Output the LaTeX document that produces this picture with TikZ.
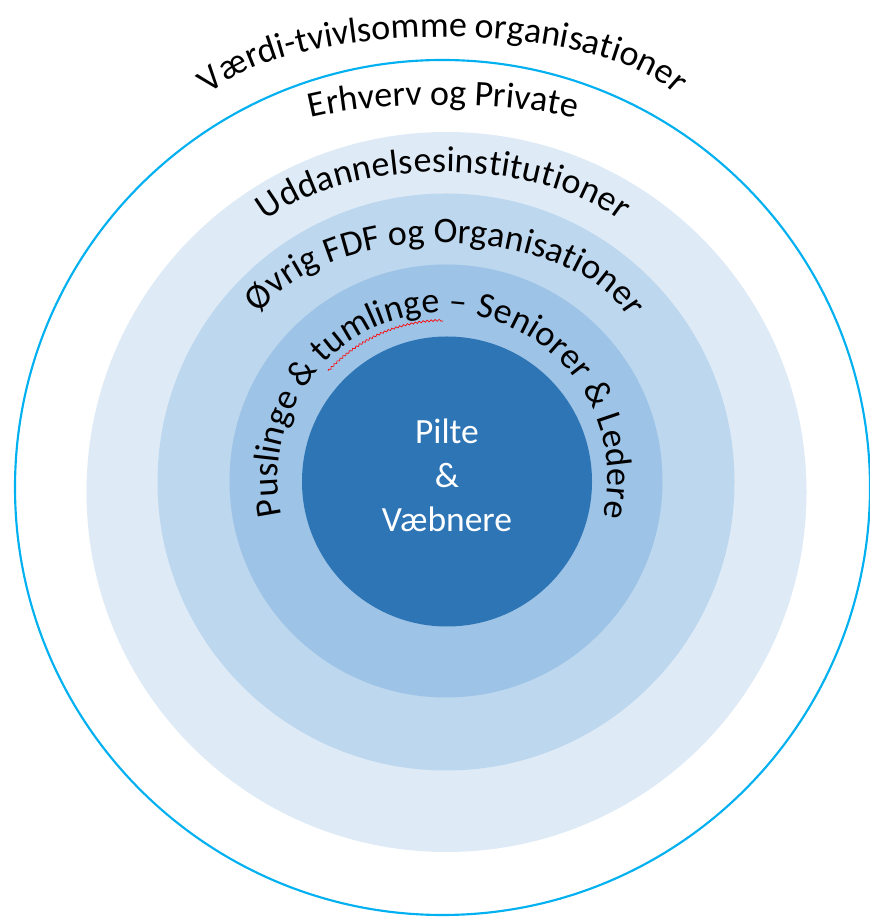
\documentclass[tikz,border=0pt]{standalone}
\usepackage{fontspec}
\setmainfont{Carlito}
\usetikzlibrary{decorations.text,decorations.pathmorphing}
\definecolor{ringA}{HTML}{DEEBF7}
\definecolor{ringB}{HTML}{BDD7EE}
\definecolor{ringC}{HTML}{9DC3E6}
\definecolor{coreblue}{HTML}{2E75B6}
\definecolor{rimblue}{HTML}{00B0F0}
\newcommand{\arcfont}{\fontsize{27}{32}\selectfont}
\begin{document}
\begin{tikzpicture}[x=0.75pt,y=0.75pt,
  arctext/.style={decorate,decoration={text along path,text align=fit to path,text={|\arcfont|#1}}},
  centertext/.style={align=center,text=white,inner sep=0pt,font=\fontsize{26.6}{33}\selectfont},
  squiggle/.style={draw=red,line width=0.5pt,decorate,decoration={snake,amplitude=0.7pt,segment length=3pt}}]
\useasboundingbox (0,0) rectangle (869,917);
% rings
\filldraw[fill=white,draw=rimblue,line width=1.6pt] (442.5,429.5) circle[radius=427.5];
\fill[ringA] (446.5,425) circle[radius=360];
\fill[ringB] (446,435) circle[radius=288.5];
\fill[ringC] (446,436) circle[radius=216.5];
\fill[coreblue] (447,435.5) circle[radius=145];
% curved labels
\path[arctext={Værdi-tvivlsomme organisationer}]
  ([shift={(162:245 and 84)}]443,796) arc[start angle=162,end angle=18,x radius=245,y radius=84];
\path[arctext={Erhverv og Private}]
  ([shift={(141:170 and 35)}]443,777) arc[start angle=141,end angle=39,x radius=170,y radius=35];
\path[arctext={Uddannelsesinstitutioner}]
  ([shift={(147.5:210 and 106)}]443,639) arc[start angle=147.5,end angle=32.5,x radius=210,y radius=106];
\path[arctext={Øvrig FDF og Organisationer}]
  ([shift={(159.7:195 and 108)}]443,566) arc[start angle=159.7,end angle=20.3,x radius=195,y radius=108];
\path[arctext={Puslinge {\&} tumlinge – Seniorer {\&} Ledere}]
  ([shift={(193:165)}]443,439) arc[start angle=193,end angle=-13.5,radius=165];
\path[squiggle] ([shift={(137:157)}]443,439) arc[start angle=137,end angle=90,radius=157];
% centre label
\node[centertext] (core) at (447,442) {Pilte\\\&\\Væbnere};
\end{tikzpicture}
\end{document}
